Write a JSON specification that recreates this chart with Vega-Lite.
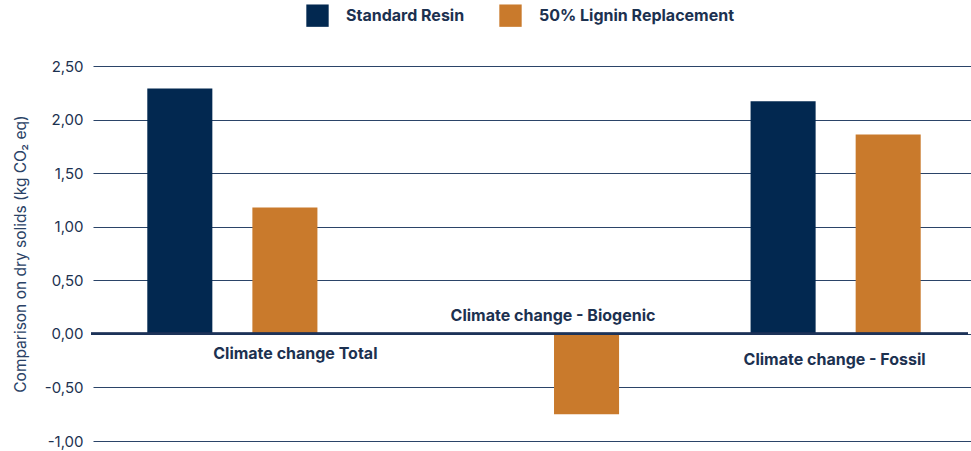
{
  "$schema": "https://vega.github.io/schema/vega-lite/v6.json",
  "autosize": {"type": "none"},
  "width": 877,
  "height": 375,
  "padding": {"left": 91, "top": 66, "right": 3, "bottom": 10},
  "background": "white",
  "config": {
    "locale": {"number": {"decimal": ",", "thousands": ".", "grouping": [3], "currency": ["", " €"], "minus": "-"}},
    "view": {"stroke": null},
    "font": "Inter"
  },
  "data": {
    "values": [
      {"category": "Climate change Total", "series": "Standard Resin", "value": 2.29},
      {"category": "Climate change Total", "series": "50% Lignin Replacement", "value": 1.18},
      {"category": "Climate change  - Biogenic", "series": "Standard Resin", "value": 0.0},
      {"category": "Climate change  - Biogenic", "series": "50% Lignin Replacement", "value": -0.75},
      {"category": "Climate change - Fossil", "series": "Standard Resin", "value": 2.17},
      {"category": "Climate change - Fossil", "series": "50% Lignin Replacement", "value": 1.86}
    ]
  },
  "encoding": {
    "x": {
      "field": "category",
      "type": "nominal",
      "sort": null,
      "scale": {"paddingInner": 0.436, "paddingOuter": 0.18, "range": [2, 884]},
      "axis": null
    }
  },
  "layer": [
    {
      "mark": {"type": "bar"},
      "encoding": {
        "xOffset": {
          "field": "series",
          "type": "nominal",
          "sort": ["Standard Resin", "50% Lignin Replacement"],
          "scale": {"paddingInner": 0.381, "paddingOuter": 0}
        },
        "y": {
          "field": "value",
          "type": "quantitative",
          "scale": {"domain": [-1, 2.5], "nice": false, "zero": false},
          "axis": {
            "values": [-1, -0.5, 0, 0.5, 1, 1.5, 2, 2.5],
            "format": ".2f",
            "title": "Comparison on dry solids (kg CO₂ eq)",
            "titleFontSize": 15.5,
            "titleFontWeight": "normal",
            "titleColor": "#2a4266",
            "titleX": -71,
            "titleBaseline": "middle",
            "labelFontSize": 15,
            "labelColor": "#1c3150",
            "labelPadding": 8,
            "ticks": false,
            "domain": false,
            "grid": true,
            "gridColor": "#2b4468",
            "gridWidth": 1
          }
        },
        "color": {
          "field": "series",
          "type": "nominal",
          "scale": {"domain": ["Standard Resin", "50% Lignin Replacement"], "range": ["#022850", "#c97a2c"]},
          "legend": {
            "title": null,
            "orient": "none",
            "direction": "horizontal",
            "legendX": 215,
            "legendY": -62,
            "symbolType": "square",
            "symbolSize": 500,
            "symbolStrokeWidth": 0,
            "symbolOpacity": 1,
            "labelFontSize": 16,
            "labelFontWeight": "bold",
            "labelColor": "#1c3150",
            "labelOffset": 17,
            "labelLimit": 0,
            "columnPadding": 34
          }
        }
      }
    },
    {
      "mark": {"type": "rule", "color": "#1c3358", "strokeWidth": 2},
      "encoding": {"y": {"datum": 0}, "x": null}
    },
    {
      "transform": [{"filter": "datum.category === 'Climate change Total' && datum.series === 'Standard Resin'"}],
      "mark": {"type": "text", "fontSize": 16, "fontWeight": "bold", "color": "#1c3150", "dx": 63, "dy": 20},
      "encoding": {"y": {"datum": 0}, "text": {"field": "category"}}
    },
    {
      "transform": [{"filter": "datum.category === 'Climate change  - Biogenic' && datum.series === 'Standard Resin'"}],
      "mark": {"type": "text", "fontSize": 16, "fontWeight": "bold", "color": "#1c3150", "dx": 19, "dy": -18},
      "encoding": {"y": {"datum": 0}, "text": {"field": "category"}}
    },
    {
      "transform": [{"filter": "datum.category === 'Climate change - Fossil' && datum.series === 'Standard Resin'"}],
      "mark": {"type": "text", "fontSize": 16, "fontWeight": "bold", "color": "#1c3150", "dx": -1, "dy": 26},
      "encoding": {"y": {"datum": 0}, "text": {"field": "category"}}
    }
  ]
}
